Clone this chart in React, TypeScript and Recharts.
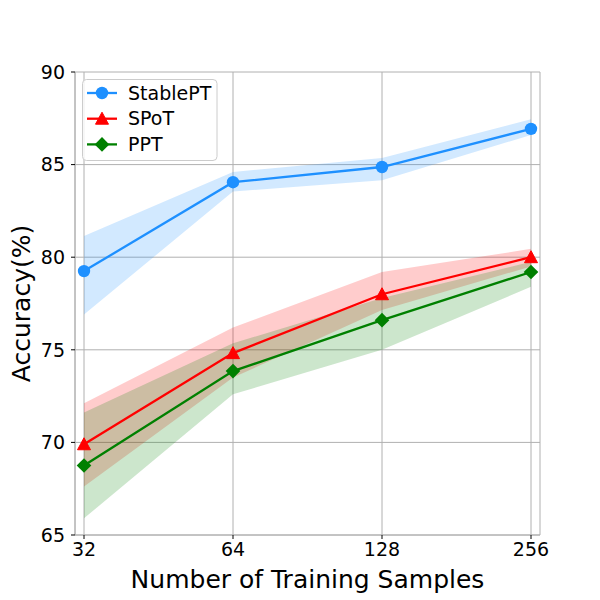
import React from 'react';
import {
  ComposedChart,
  Line,
  Area,
  XAxis,
  YAxis,
  CartesianGrid,
} from 'recharts';

const categories = ['32', '64', '128', '256'];

const stableMean = [79.25, 84.05, 84.87, 86.93];
const stableLow = [76.9, 83.55, 84.15, 86.6];
const stableHigh = [81.15, 84.6, 85.35, 87.45];

const spotMean = [69.9, 74.82, 78.0, 80.0];
const spotLow = [67.62, 73.5, 77.15, 79.5];
const spotHigh = [72.12, 76.2, 79.2, 80.45];

const pptMean = [68.75, 73.85, 76.6, 79.2];
const pptLow = [65.9, 72.6, 75.0, 78.4];
const pptHigh = [71.62, 75.35, 77.8, 79.75];

const yTicks = [65, 70, 75, 80, 85, 90];

const seriesNames = ['StablePT', 'SPoT', 'PPT'];

const BLUE = '#1E90FF';
const RED = '#FF0000';
const GREEN = '#008000';
const GRID = '#b0b0b0';
const FONT = 'DejaVu Sans, sans-serif';
const LW = 2.3;

const data = categories.map((c, i) => ({
  cat: c,
  stable: stableMean[i],
  stableBand: [stableLow[i], stableHigh[i]],
  spot: spotMean[i],
  spotBand: [spotLow[i], spotHigh[i]],
  ppt: pptMean[i],
  pptBand: [pptLow[i], pptHigh[i]],
}));

const circleShape = (cx: number, cy: number, color: string, key?: any) => (
  <circle key={key} cx={cx} cy={cy} r={6.2} fill={color} />
);
const triangleShape = (cx: number, cy: number, color: string, key?: any) => (
  <polygon
    key={key}
    points={`${cx},${cy - 6.5} ${cx - 6.5},${cy + 5.5} ${cx + 6.5},${cy + 5.5}`}
    fill={color}
    stroke={color}
    strokeWidth={1}
    strokeLinejoin="miter"
  />
);
const diamondShape = (cx: number, cy: number, color: string, key?: any) => (
  <polygon
    key={key}
    points={`${cx},${cy - 7.3} ${cx + 7.3},${cy} ${cx},${cy + 7.3} ${cx - 7.3},${cy}`}
    fill={color}
  />
);

const CircleDot = (p: any) => circleShape(p.cx, p.cy, BLUE, p.key ?? `c${p.index}`);
const TriDot = (p: any) => triangleShape(p.cx, p.cy, RED, p.key ?? `t${p.index}`);
const DiaDot = (p: any) => diamondShape(p.cx, p.cy, GREEN, p.key ?? `d${p.index}`);

const legendRows = [
  { name: seriesNames[0], color: BLUE, shape: circleShape },
  { name: seriesNames[1], color: RED, shape: triangleShape },
  { name: seriesNames[2], color: GREEN, shape: diamondShape },
];

export default function App() {
  return (
    <div style={{ position: 'relative', width: 600, height: 600, fontFamily: FONT }}>
      <style>{`body{margin:0}`}</style>
      <ComposedChart
        width={600}
        height={600}
        data={data}
        margin={{ top: 72, right: 60, bottom: 35, left: 15 }}
      >
        <CartesianGrid stroke={GRID} strokeWidth={1} />
        <XAxis
          dataKey="cat"
          scale="point"
          padding={{ left: 9, right: 9 }}
          height={30}
          axisLine={{ stroke: GRID }}
          tickLine={{ stroke: '#000' }}
          tickSize={4}
          tickMargin={4}
          tick={{ fill: '#000', fontSize: 19, fontFamily: FONT }}
        />
        <XAxis
          xAxisId="top"
          dataKey="cat"
          orientation="top"
          scale="point"
          height={0}
          tick={false}
          tickLine={false}
          axisLine={{ stroke: GRID }}
        />
        <YAxis
          type="number"
          domain={[65, 90]}
          ticks={yTicks}
          width={60}
          allowDataOverflow
          axisLine={{ stroke: GRID }}
          tickLine={{ stroke: '#000' }}
          tickSize={4}
          tickMargin={6}
          tick={{ fill: '#000', fontSize: 19, fontFamily: FONT }}
        />
        <YAxis
          yAxisId="r"
          orientation="right"
          type="number"
          domain={[65, 90]}
          width={0}
          tick={false}
          tickLine={false}
          axisLine={{ stroke: GRID }}
        />
        <Area
          dataKey="stableBand"
          stroke="none"
          fill={BLUE}
          fillOpacity={0.2}
          isAnimationActive={false}
          dot={false}
          activeDot={false}
        />
        <Area
          dataKey="spotBand"
          stroke="none"
          fill={RED}
          fillOpacity={0.2}
          isAnimationActive={false}
          dot={false}
          activeDot={false}
        />
        <Area
          dataKey="pptBand"
          stroke="none"
          fill={GREEN}
          fillOpacity={0.2}
          isAnimationActive={false}
          dot={false}
          activeDot={false}
        />
        <Line
          dataKey="stable"
          stroke={BLUE}
          strokeWidth={LW}
          dot={CircleDot}
          activeDot={false}
          isAnimationActive={false}
        />
        <Line
          dataKey="spot"
          stroke={RED}
          strokeWidth={LW}
          dot={TriDot}
          activeDot={false}
          isAnimationActive={false}
        />
        <Line
          dataKey="ppt"
          stroke={GREEN}
          strokeWidth={LW}
          dot={DiaDot}
          activeDot={false}
          isAnimationActive={false}
        />
      </ComposedChart>
      <svg
        width={600}
        height={600}
        style={{ position: 'absolute', left: 0, top: 0, pointerEvents: 'none' }}
      >
        <rect
          x={82.5}
          y={79.5}
          width={134.5}
          height={81}
          rx={4}
          fill="#ffffff"
          fillOpacity={0.8}
          stroke="#cccccc"
        />
        {legendRows.map((r, i) => {
          const cy = 93 + i * 25.7;
          return (
            <g key={r.name}>
              <line x1={87} x2={117} y1={cy} y2={cy} stroke={r.color} strokeWidth={LW} />
              {r.shape(102, cy, r.color)}
              <text
                x={128}
                y={cy + 6.6}
                fontSize={19}
                fontFamily={FONT}
                fill="#000"
              >
                {r.name}
              </text>
            </g>
          );
        })}
        <text
          x={307.5}
          y={588}
          textAnchor="middle"
          fontSize={25}
          fontFamily={FONT}
          fill="#000"
        >
          Number of Training Samples
        </text>
        <text
          x={30}
          y={303.5}
          textAnchor="middle"
          fontSize={25}
          fontFamily={FONT}
          fill="#000"
          transform="rotate(-90 30 303.5)"
        >
          Accuracy(%)
        </text>
      </svg>
    </div>
  );
}
